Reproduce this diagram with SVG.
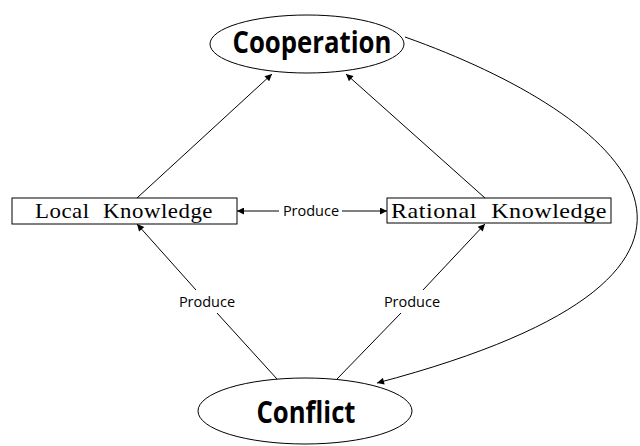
<svg xmlns="http://www.w3.org/2000/svg" width="640" height="446" viewBox="0 0 640 446">
<defs>
<marker id="ah" viewBox="0 0 10 10" refX="10" refY="5" markerWidth="9" markerHeight="7" markerUnits="userSpaceOnUse" orient="auto">
<path d="M0,0 L10,5 L0,10 z" fill="#000"/>
</marker>
<style>
.ln{fill:none;stroke:#000;stroke-width:1}
.nd{fill:#fff;stroke:#000;stroke-width:1}
.big{font-family:"Open Sans","Liberation Sans",sans-serif;font-weight:bold;font-size:30px;text-anchor:middle}
.mono{font-family:"Liberation Serif","DejaVu Serif",serif;font-size:22px;text-anchor:middle;word-spacing:7px;letter-spacing:0.5px}
.lbl{font-family:"Open Sans","Liberation Sans",sans-serif;font-size:14.5px;text-anchor:middle}
</style>
</defs>
<g id="connectors">
<line class="ln" x1="137" y1="198" x2="272" y2="74" marker-end="url(#ah)"/>
<line class="ln" x1="485" y1="198" x2="346" y2="74" marker-end="url(#ah)"/>
<line class="ln" x1="279" y1="211" x2="237" y2="211" marker-end="url(#ah)"/>
<line class="ln" x1="342" y1="211" x2="387" y2="211" marker-end="url(#ah)"/>
<path class="ln" d="M277,379 L217,313 M196,290 L137,224" marker-end="url(#ah)"/>
<path class="ln" d="M337,379 L401,313 M423,290 L485,224" marker-end="url(#ah)"/>
<path class="ln" d="M405,37 C625,115 805,270 377,383" marker-end="url(#ah)"/>
<text class="lbl" x="311" y="216">Produce</text>
<text class="lbl" x="207" y="307">Produce</text>
<text class="lbl" x="412" y="307">Produce</text>
</g>
<g id="cooperation">
<ellipse class="nd" cx="307" cy="44" rx="97" ry="29"/>
<text class="big" x="312" y="53" textLength="159" lengthAdjust="spacingAndGlyphs">Cooperation</text>
</g>
<g id="conflict">
<ellipse class="nd" cx="305" cy="411" rx="107" ry="33"/>
<text class="big" x="306" y="423" textLength="99" lengthAdjust="spacingAndGlyphs">Conflict</text>
</g>
<g id="local">
<rect class="nd" x="12" y="198" width="225" height="26"/>
<text class="mono" x="124" y="218" textLength="178" lengthAdjust="spacingAndGlyphs">Local Knowledge</text>
</g>
<g id="rational">
<rect class="nd" x="387" y="198" width="224" height="25"/>
<text class="mono" x="499" y="218" textLength="216" lengthAdjust="spacingAndGlyphs">Rational Knowledge</text>
</g>
</svg>
